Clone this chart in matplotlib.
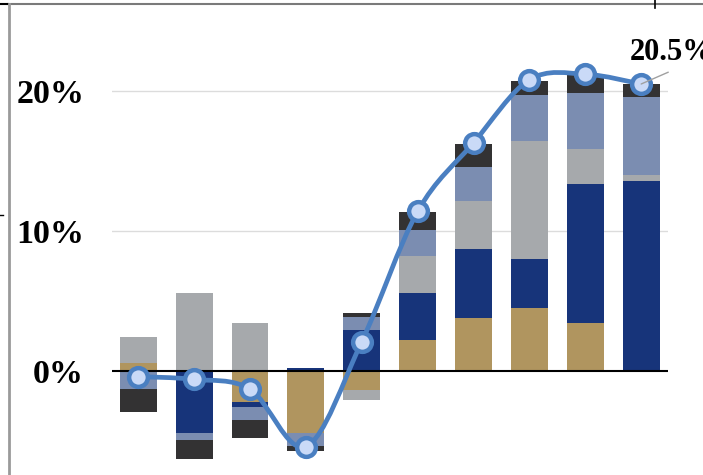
import matplotlib.pyplot as plt
import numpy as np
from matplotlib.path import Path
from matplotlib.patches import PathPatch
from matplotlib.lines import Line2D

# contributions per period, in percentage points (stack order bottom -> top)
periods = list(range(10))
tan = [0.6, 0.0, -2.2, -4.4, -1.38, 2.2, 3.8, 4.5, 3.45, 0.0]
navy = [0.0, -4.4, -0.38, 0.2, 2.9, 3.36, 4.88, 3.5, 9.93, 13.57]
gray = [1.84, 5.6, 3.4, 0.0, -0.71, 2.67, 3.45, 8.4, 2.45, 0.4]
slate = [-1.3, -0.55, -0.95, -0.95, 0.95, 1.83, 2.43, 3.33, 4.05, 5.6]
dark = [-1.6, -1.36, -1.24, -0.36, 0.31, 1.3, 1.66, 1.0, 1.35, 0.9]
total = [-0.4, -0.6, -1.3, -5.4, 2.1, 11.4, 16.3, 20.8, 21.2, 20.5]
yticks = [0, 10, 20]
ytick_labels = ["0%", "10%", "20%"]

series = [tan, navy, gray, slate, dark]
colors = ["#B0955F", "#17347A", "#A6A9AC", "#7B8DB1", "#333233"]

fig = plt.figure(figsize=(7.03, 4.75), dpi=100)
ax = fig.add_axes([112 / 703, 0, 556 / 703, 1])

pos_bottom = np.zeros(len(periods))
neg_bottom = np.zeros(len(periods))
for vals, col in zip(series, colors):
    vals = np.array(vals)
    bottoms = np.where(vals >= 0, pos_bottom, neg_bottom)
    ax.bar(periods, vals, bottom=bottoms, width=0.66, color=col, zorder=2)
    pos_bottom += np.clip(vals, 0, None)
    neg_bottom += np.clip(vals, None, 0)

# smoothed total line (cubic bezier through the points, like a spreadsheet "smooth line")
pts = np.column_stack([periods, total]).astype(float)
ext = np.vstack([pts[0], pts, pts[-1]])
verts = [tuple(pts[0])]
codes = [Path.MOVETO]
for i in range(len(pts) - 1):
    p0, p1, p2, p3 = ext[i], ext[i + 1], ext[i + 2], ext[i + 3]
    c1 = p1 + (p2 - p0) / 6
    c2 = p2 - (p3 - p1) / 6
    verts += [tuple(c1), tuple(c2), tuple(p2)]
    codes += [Path.CURVE4] * 3
ax.add_patch(PathPatch(Path(verts, codes), fill=False, edgecolor="#4A7FC1",
                       lw=3.4, zorder=4, capstyle="round"))
ax.plot(periods, total, linestyle="none", marker="o", markersize=13.5,
        markerfacecolor="#CADAF7", markeredgecolor="#4A7FC1", markeredgewidth=3.2, zorder=5)

ax.set_xlim(-0.47, 9.48)
ax.set_ylim(-7.43, 26.5)
for y in [10, 20]:
    ax.axhline(y, color="#DCDCDC", lw=1, zorder=1)
ax.axhline(0, color="black", lw=1.5, zorder=3)

ax.set_yticks(yticks)
ax.set_yticklabels(ytick_labels, family="Liberation Serif", fontweight="bold", fontsize=24.5)
ax.tick_params(axis="y", length=0, pad=20)
ax.set_xticks([])
for s in ax.spines.values():
    s.set_visible(False)

# label for the last value with a thin leader line
last = (periods[-1], total[-1])
ax.annotate("", xy=last, xytext=(19.5, 8.5), textcoords="offset points",
            arrowprops=dict(arrowstyle="-", color="#A0A0A0", lw=1, shrinkA=0, shrinkB=0),
            annotation_clip=False, zorder=6)
ax.annotate(f"{total[-1]:.1f}%", xy=last, xytext=(-8, 17.5), textcoords="offset points",
            fontsize=22, family="Liberation Serif", fontweight="bold",
            ha="left", va="baseline", annotation_clip=False, zorder=6)

# frame lines around the chart area
fig.add_artist(Line2D([8 / 703, 1], [1 - 3.5 / 475] * 2, color="#7A7A7A", lw=1.5))
fig.add_artist(Line2D([0, 8 / 703], [1 - 3.5 / 475] * 2, color="black", lw=1.5))
fig.add_artist(Line2D([8.5 / 703] * 2, [0, 1 - 3.5 / 475], color="#9A9A9A", lw=2))
fig.add_artist(Line2D([655 / 703] * 2, [1, 1 - 8 / 475], color="black", lw=1.2))
fig.add_artist(Line2D([0, 3 / 703], [1 - 215 / 475] * 2, color="black", lw=1))

fig.savefig("out.png", dpi=100)
